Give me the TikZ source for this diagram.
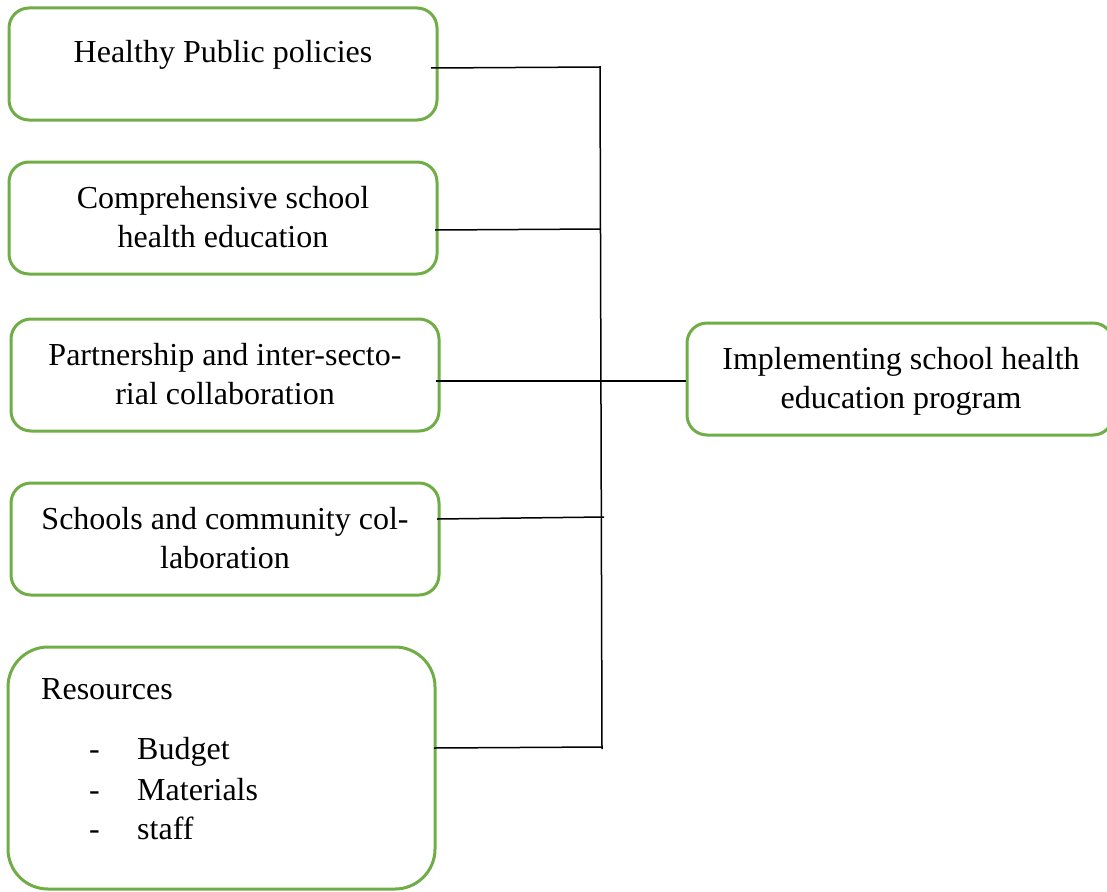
\documentclass[tikz,border=0pt]{standalone}
\usepackage{fontspec}
\setmainfont{Liberation Serif}
\definecolor{boxgreen}{HTML}{70AD47}
\begin{document}
\begin{tikzpicture}[x=1pt,y=-1pt,
  box/.style={draw=boxgreen, line width=3pt, rounded corners=20pt, inner sep=0pt},
  txt/.style={inner sep=0pt, anchor=base, align=center, font=\fontsize{32}{39}\selectfont},
  ltxt/.style={inner sep=0pt, anchor=base west, font=\fontsize{32}{39}\selectfont},
  conn/.style={draw=black, line width=1.5pt}]
\useasboundingbox (0,0) rectangle (1107,891);
% boxes
\node[box, minimum width=428pt, minimum height=112pt] (b1) at (223,64) {};
\node[box, minimum width=428pt, minimum height=112pt] (b2) at (223,218) {};
\node[box, minimum width=428pt, minimum height=112pt] (b3) at (225,375) {};
\node[box, minimum width=428pt, minimum height=112pt] (b4) at (225,539) {};
\node[box, minimum width=427pt, minimum height=242pt, rounded corners=40pt] (b5) at (221.5,768) {};
\node[box, minimum width=426pt, minimum height=112pt] (r) at (900,379) {};
% texts (multi-line nodes: base = baseline of last line)
\node[txt] (t1) at (223,63) {Healthy Public policies};
\node[txt] (t2) at (223,247) {Comprehensive school\\health education};
\node[txt] (t3) at (225,404) {Partnership and inter-secto-\\rial collaboration};
\node[txt] (t4) at (225,568) {Schools and community col-\\laboration};
\node[txt] (tr) at (901,408) {Implementing school health\\education program};
\node[ltxt] (t5) at (41,699) {Resources};
\node[ltxt] (d1) at (89,759) {-};
\node[ltxt] (d2) at (89,800) {-};
\node[ltxt] (d3) at (89,839) {-};
\node[ltxt] (i1) at (137,759) {Budget};
\node[ltxt] (i2) at (137,800) {Materials};
\node[ltxt] (i3) at (137,839) {staff};
% connector points
\coordinate (s1) at (431,68);
\coordinate (s2) at (435,230);
\coordinate (s3) at (436,381);
\coordinate (s4) at (437,519);
\coordinate (s5) at (434,748);
\coordinate (j1) at (600,67);
\coordinate (j2) at (601,229);
\coordinate (j4) at (604,517);
\coordinate (j5) at (602,747);
\coordinate (jt) at (600,66);
\coordinate (jb) at (602,749);
% connectors
\draw[conn] (jt) -- (jb);
\draw[conn] (s1) -- (j1);
\draw[conn] (s2) -- (j2);
\draw[conn] (s3) -- (s3 -| r.west);
\draw[conn] (s4) -- (j4);
\draw[conn] (s5) -- (j5);
\end{tikzpicture}
\end{document}
